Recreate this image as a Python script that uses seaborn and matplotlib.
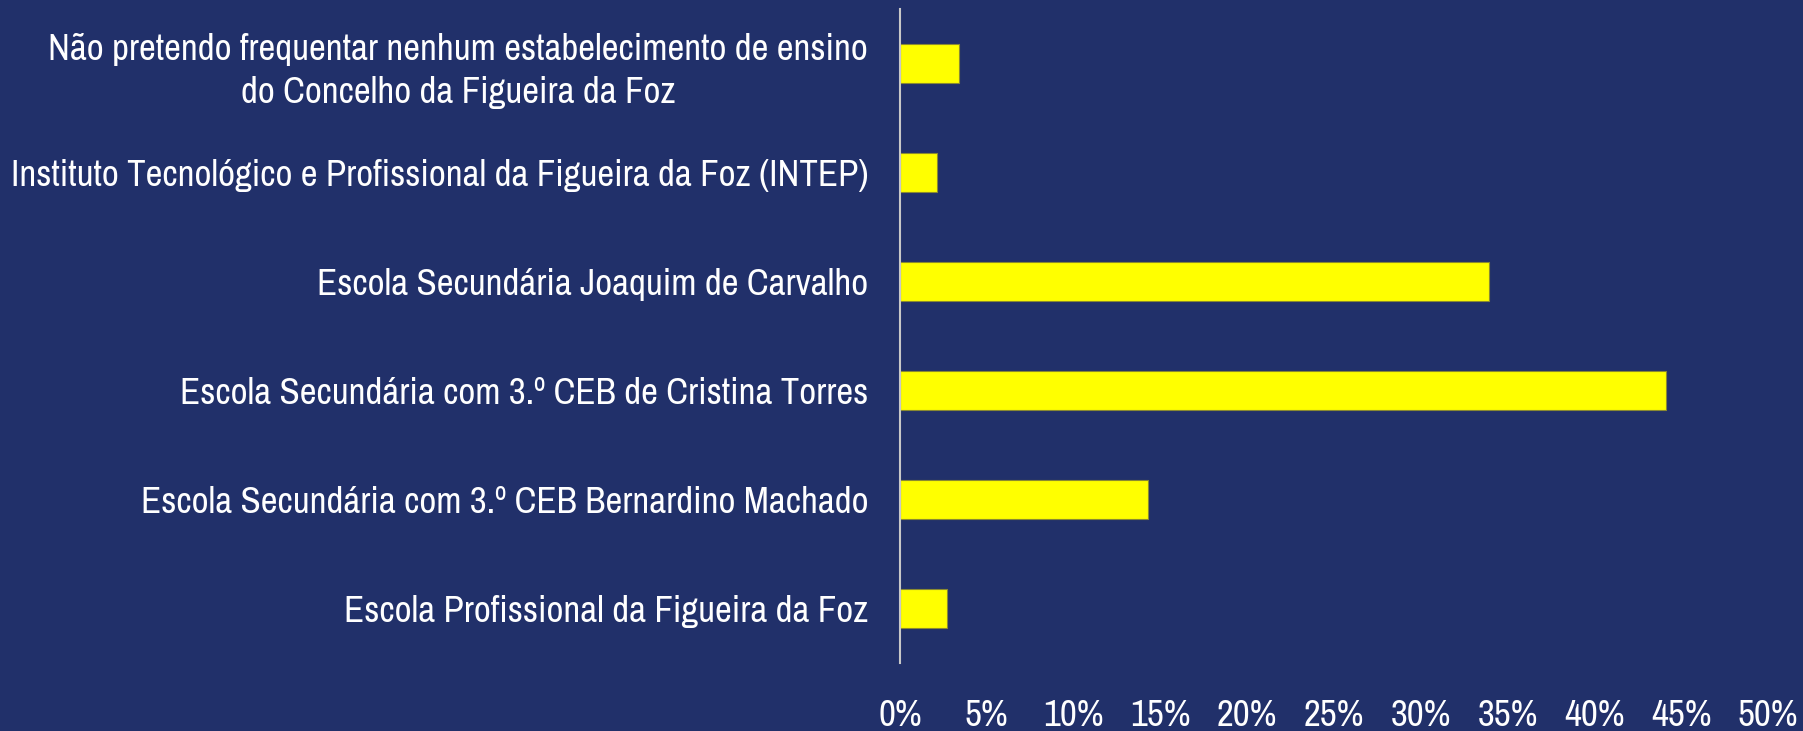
import matplotlib
matplotlib.use("Agg")
import matplotlib.pyplot as plt
import seaborn as sns
import pandas as pd
from matplotlib.ticker import FuncFormatter
from matplotlib import font_manager

categories = [
    "Não pretendo frequentar nenhum estabelecimento de ensino\ndo Concelho da Figueira da Foz",
    "Instituto Tecnológico e Profissional da Figueira da Foz (INTEP)",
    "Escola Secundária Joaquim de Carvalho",
    "Escola Secundária com 3.º CEB de Cristina Torres",
    "Escola Secundária com 3.º CEB Bernardino Machado",
    "Escola Profissional da Figueira da Foz",
]
values = [3.4, 2.1, 33.9, 44.1, 14.3, 2.7]
xticks = [0, 5, 10, 15, 20, 25, 30, 35, 40, 45, 50]

bg = "#21306A"
sns.set_theme(style="white")
names = {f.name for f in font_manager.fontManager.ttflist}
prefs = ["Liberation Sans Narrow", "Arial Narrow", "Archivo Narrow", "PT Sans Narrow",
         "Roboto Condensed", "IBM Plex Sans Condensed", "Fira Sans Condensed", "Liberation Sans"]
fam = next(p for p in prefs if p in names)
plt.rcParams["font.family"] = [fam, "DejaVu Sans"]

# pick a font size so the INTEP label has the reference width (~857 px)
fig0 = plt.figure(figsize=(18.03, 7.31), dpi=100)
t = fig0.text(0, 0, categories[1], fontsize=24)
fig0.canvas.draw()
w = t.get_window_extent().width
fs = 24 * 857.0 / w
plt.close(fig0)

df = pd.DataFrame({"cat": categories, "val": values})

fig = plt.figure(figsize=(18.03, 7.31), dpi=100, facecolor=bg)
ax = fig.add_axes([0.4992, 0.093, 0.4814, 0.8947])
ax.set_facecolor(bg)
sns.barplot(data=df, x="val", y="cat", orient="h", color="#FFFF00",
            width=0.36, edgecolor="#8A8A30", linewidth=0.8, saturation=1, ax=ax)

ax.set_xlim(0, 50)
ax.set_ylim(len(categories) - 0.5, -0.5)
ax.set_xticks(xticks)
ax.xaxis.set_major_formatter(FuncFormatter(lambda v, p: f"{int(v)}%"))
ax.set_xlabel("")
ax.set_ylabel("")
for s in ["top", "right", "bottom"]:
    ax.spines[s].set_visible(False)
ax.spines["left"].set_color("#C8C8C8")
ax.spines["left"].set_linewidth(1.5)
ax.tick_params(axis="x", colors="white", labelsize=fs, length=0, pad=26)
ax.tick_params(axis="y", colors="white", labelsize=fs, length=0, pad=23)
for lab in ax.get_yticklabels():
    lab.set_multialignment("center")
    lab.set_linespacing(1.37)
ax.grid(False)

fig.savefig("out.png", dpi=100, facecolor=bg)
